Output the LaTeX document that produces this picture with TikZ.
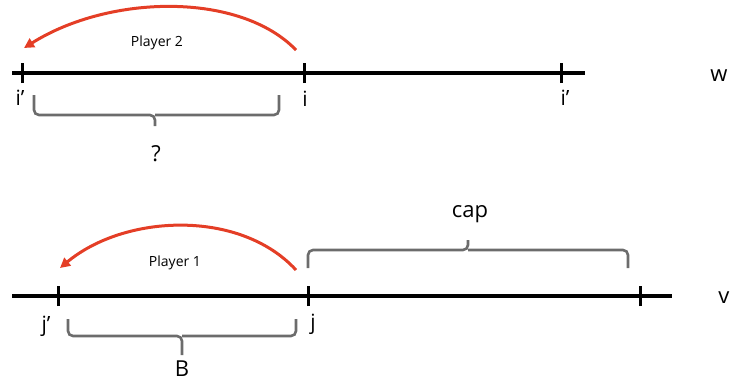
\documentclass[tikz,border=0pt]{standalone}
\usepackage{fontspec}
\setmainfont{Open Sans}
\usetikzlibrary{arrows.meta}

\tikzset{
    axis/.style={line width=3.2pt, black},
    tick/.style={line width=3pt, black},
    move/.style={line width=3pt, color=redmove, -{Triangle[length=10pt,width=10pt]}},
    bracket/.style={line width=2.6pt, color=gray!85!black, rounded corners=5pt},
    lbl/.style={font=\fontsize{21}{23}\selectfont, inner sep=1pt},
    playerlbl/.style={font=\fontsize{14}{16}\selectfont, inner sep=1pt},
    bigl/.style={font=\fontsize{22}{24}\selectfont, inner sep=1pt}
}
\definecolor{redmove}{RGB}{228,62,38}

\begin{document}
\begin{tikzpicture}[x=1pt, y=-1pt]
    \useasboundingbox (0,0) rectangle (732,386);

    % Top line (w)
    \coordinate (wstart) at (12,73);
    \coordinate (wend) at (585,73);
    \draw[axis] (wstart) -- (wend);
    \coordinate (ip) at (22,73);
    \coordinate (i) at (304,73);
    \coordinate (ipr) at (561,73);
    \foreach \c in {ip,i,ipr}
        \draw[tick] ([yshift=-10pt]\c) -- ([yshift=10pt]\c);

    \node[lbl] (ipl) at (20,98) {i’};
    \node[lbl] (il) at (305,99) {i};
    \node[lbl] (iprl) at (565,98) {i’};
    \node[bigl] (w) at (719,76) {w};

    % Player 2 move
    \node[playerlbl] (p2) at (157,43) {Player 2};
    \draw[move] (296,50) .. controls (240,-8) and (110,-6) .. (24,48);

    % bracket under top line
    \draw[bracket] (34,95) -- (34,115) -- (155,115) -- (155,126);
    \draw[bracket] (279,95) -- (279,115) -- (155,115);
    \node[bigl] (q) at (156,154) {?};

    % Bottom line (v)
    \coordinate (vstart) at (12,296);
    \coordinate (vend) at (672,296);
    \draw[axis] (vstart) -- (vend);
    \coordinate (jp) at (58,296);
    \coordinate (j) at (308,296);
    \coordinate (jr) at (640,296);
    \foreach \c in {jp,j,jr}
        \draw[tick] ([yshift=-10pt]\c) -- ([yshift=10pt]\c);

    \node[lbl] (jpl) at (46,326) {j’};
    \node[lbl] (jl) at (313,324) {j};
    \node[bigl] (v) at (724,298) {v};

    % Player 1 move
    \node[playerlbl] (p1) at (175,263) {Player 1};
    \draw[move] (296,270) .. controls (240,209) and (125,214) .. (60,268);

    % bracket B
    \draw[bracket] (68,319) -- (68,336) -- (182,336) -- (182,355);
    \draw[bracket] (296,319) -- (296,336) -- (182,336);
    \node[bigl] (b) at (182,369) {B};

    % bracket cap
    \draw[bracket] (308,268) -- (308,250) -- (468,250) -- (468,240);
    \draw[bracket] (628,268) -- (628,250) -- (468,250);
    \node[bigl] (cap) at (470,214) {cap};
\end{tikzpicture}
\end{document}
